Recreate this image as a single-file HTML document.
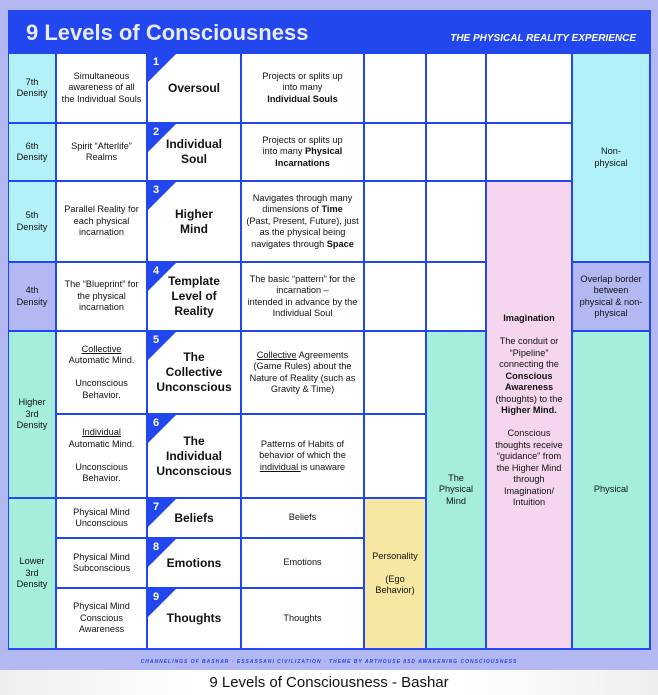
<!DOCTYPE html>
<html><head><meta charset="utf-8"><style>
body{margin:0;width:658px;height:695px;background:#b3b8f3;position:relative;overflow:hidden;font-family:"Liberation Sans",Arial,sans-serif;}
#panel{position:absolute;left:8px;top:10px;width:643px;height:640px;background:#2247ef;}
.h1{position:absolute;left:26px;top:20px;color:#e8eaff;font-size:22px;font-weight:bold;}
.h2{position:absolute;right:22px;top:33px;color:#fff;font-size:10px;font-weight:bold;font-style:italic;}
.c{position:absolute;background:#fff;display:flex;align-items:center;justify-content:center;text-align:center;font-size:9.2px;line-height:1.25;color:#111;box-sizing:border-box;padding:2px 4px;}
.t{font-size:12px;font-weight:bold;}
.n{position:absolute;left:0;top:0;width:0;height:0;border-top:28px solid #2247ef;border-right:28px solid transparent;}
.nn{position:absolute;left:5px;top:2px;color:#fff;font-size:11px;font-weight:bold;}
.cy{background:#b3f1f8}.lv{background:#b3b8f3}.mt{background:#a5eedb}.pk{background:#f5d6ee}.yl{background:#f6e7a2}
#foot{position:absolute;left:0;top:659px;width:658px;text-align:center;font-size:5px;letter-spacing:1px;color:#2247ef;font-weight:bold;font-style:italic;}
#cap{position:absolute;left:0;top:670px;width:658px;height:25px;background:linear-gradient(90deg,#eee,#fff 30%,#fff 70%,#eee);text-align:center;font-size:15px;line-height:25px;color:#111;}
</style></head><body>
<div id="panel"></div>
<div class="h1">9 Levels of Consciousness</div>
<div class="h2">THE PHYSICAL REALITY EXPERIENCE</div>

<div class="c cy" style="left:9px;top:54px;width:46px;height:68px">7th<br>Density</div>
<div class="c cy" style="left:9px;top:124px;width:46px;height:56px">6th<br>Density</div>
<div class="c cy" style="left:9px;top:182px;width:46px;height:79px">5th<br>Density</div>
<div class="c lv" style="left:9px;top:263px;width:46px;height:67px">4th<br>Density</div>
<div class="c mt" style="left:9px;top:332px;width:46px;height:165px">Higher<br>3rd<br>Density</div>
<div class="c mt" style="left:9px;top:499px;width:46px;height:149px">Lower<br>3rd<br>Density</div>

<div class="c" style="left:57px;top:54px;width:89px;height:68px">Simultaneous awareness of all the Individual Souls</div>
<div class="c" style="left:57px;top:124px;width:89px;height:56px">Spirit “Afterlife”<br>Realms</div>
<div class="c" style="left:57px;top:182px;width:89px;height:79px">Parallel Reality for each physical incarnation</div>
<div class="c" style="left:57px;top:263px;width:89px;height:67px">The “Blueprint” for the physical incarnation</div>
<div class="c" style="left:57px;top:332px;width:89px;height:81px"><div><u>Collective</u><br>Automatic Mind.<br><br>Unconscious<br>Behavior.</div></div>
<div class="c" style="left:57px;top:415px;width:89px;height:82px"><div><u>Individual</u><br>Automatic Mind.<br><br>Unconscious<br>Behavior.</div></div>
<div class="c" style="left:57px;top:499px;width:89px;height:38px">Physical Mind<br>Unconscious</div>
<div class="c" style="left:57px;top:539px;width:89px;height:48px">Physical Mind<br>Subconscious</div>
<div class="c" style="left:57px;top:589px;width:89px;height:59px">Physical Mind<br>Conscious<br>Awareness</div>

<div class="c t" style="left:148px;top:54px;width:92px;height:68px"><div class="n"></div><div class="nn">1</div>Oversoul</div>
<div class="c t" style="left:148px;top:124px;width:92px;height:56px"><div class="n"></div><div class="nn">2</div>Individual<br>Soul</div>
<div class="c t" style="left:148px;top:182px;width:92px;height:79px"><div class="n"></div><div class="nn">3</div>Higher<br>Mind</div>
<div class="c t" style="left:148px;top:263px;width:92px;height:67px"><div class="n"></div><div class="nn">4</div>Template<br>Level of<br>Reality</div>
<div class="c t" style="left:148px;top:332px;width:92px;height:81px"><div class="n"></div><div class="nn">5</div>The<br>Collective<br>Unconscious</div>
<div class="c t" style="left:148px;top:415px;width:92px;height:82px"><div class="n"></div><div class="nn">6</div>The<br>Individual<br>Unconscious</div>
<div class="c t" style="left:148px;top:499px;width:92px;height:38px"><div class="n"></div><div class="nn">7</div>Beliefs</div>
<div class="c t" style="left:148px;top:539px;width:92px;height:48px"><div class="n"></div><div class="nn">8</div>Emotions</div>
<div class="c t" style="left:148px;top:589px;width:92px;height:59px"><div class="n"></div><div class="nn">9</div>Thoughts</div>

<div class="c" style="left:242px;top:54px;width:121px;height:68px"><div>Projects or splits up<br>into many<br><b>Individual Souls</b></div></div>
<div class="c" style="left:242px;top:124px;width:121px;height:56px"><div>Projects or splits up<br>into many <b>Physical<br>Incarnations</b></div></div>
<div class="c" style="left:242px;top:182px;width:121px;height:79px"><div>Navigates through many dimensions of <b>Time</b><br>(Past, Present, Future), just as the physical being navigates through <b>Space</b></div></div>
<div class="c" style="left:242px;top:263px;width:121px;height:67px"><div>The basic “pattern” for the incarnation –<br>intended in advance by the Individual Soul</div></div>
<div class="c" style="left:242px;top:332px;width:121px;height:81px"><div><u>Collective</u> Agreements (Game Rules) about the Nature of Reality (such as Gravity &amp; Time)</div></div>
<div class="c" style="left:242px;top:415px;width:121px;height:82px"><div>Patterns of Habits of behavior of which the <u>individual </u>is unaware</div></div>
<div class="c" style="left:242px;top:499px;width:121px;height:38px">Beliefs</div>
<div class="c" style="left:242px;top:539px;width:121px;height:48px">Emotions</div>
<div class="c" style="left:242px;top:589px;width:121px;height:59px">Thoughts</div>

<div class="c" style="left:365px;top:54px;width:60px;height:68px"></div>
<div class="c" style="left:365px;top:124px;width:60px;height:56px"></div>
<div class="c" style="left:365px;top:182px;width:60px;height:79px"></div>
<div class="c" style="left:365px;top:263px;width:60px;height:67px"></div>
<div class="c" style="left:365px;top:332px;width:60px;height:81px"></div>
<div class="c" style="left:365px;top:415px;width:60px;height:82px"></div>
<div class="c yl" style="left:365px;top:499px;width:60px;height:149px">Personality<br><br>(Ego<br>Behavior)</div>

<div class="c" style="left:427px;top:54px;width:58px;height:68px"></div>
<div class="c" style="left:427px;top:124px;width:58px;height:56px"></div>
<div class="c" style="left:427px;top:182px;width:58px;height:79px"></div>
<div class="c" style="left:427px;top:263px;width:58px;height:67px"></div>
<div class="c mt" style="left:427px;top:332px;width:58px;height:316px">The<br>Physical<br>Mind</div>

<div class="c" style="left:487px;top:54px;width:84px;height:68px"></div>
<div class="c" style="left:487px;top:124px;width:84px;height:56px"></div>
<div class="c pk" style="left:487px;top:182px;width:84px;height:466px;align-items:flex-start;padding-top:131px"><div><b>Imagination</b><br><br>The conduit or “Pipeline” connecting the <b>Conscious Awareness</b> (thoughts) to the <b>Higher Mind.</b><br><br>Conscious thoughts receive “guidance” from the Higher Mind through Imagination/ Intuition</div></div>

<div class="c cy" style="left:573px;top:54px;width:76px;height:207px">Non-<br>physical</div>
<div class="c lv" style="left:573px;top:263px;width:76px;height:67px">Overlap border between physical &amp; non-physical</div>
<div class="c mt" style="left:573px;top:332px;width:76px;height:316px">Physical</div>

<div id="foot">CHANNELINGS OF BASHAR · ESSASSANI CIVILIZATION · THEME BY ARTHOUSE 8SD AWAKENING CONSCIOUSNESS</div>
<div id="cap">9 Levels of Consciousness - Bashar</div>
</body></html>
